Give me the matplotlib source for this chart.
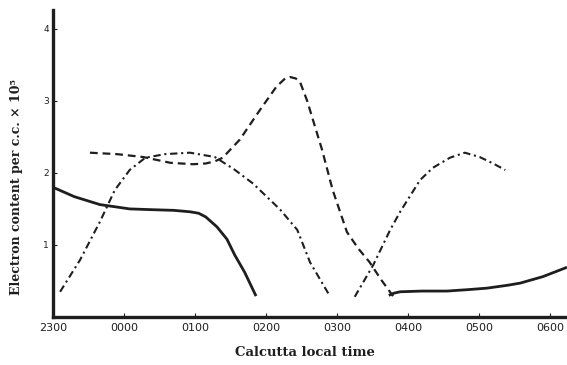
import matplotlib
matplotlib.use("Agg")
import matplotlib.pyplot as plt

# hours after 2300 local time
solid1_x = [0.00, 0.30, 0.66, 1.08, 1.37, 1.70, 1.93, 2.05, 2.15, 2.31, 2.45, 2.56, 2.70, 2.86]
solid1_y = [1.80, 1.67, 1.56, 1.50, 1.49, 1.48, 1.46, 1.44, 1.39, 1.25, 1.08, 0.86, 0.62, 0.29]

solid2_x = [4.73, 4.80, 4.89, 5.20, 5.55, 5.85, 6.11, 6.40, 6.58, 6.90, 7.24]
solid2_y = [0.30, 0.33, 0.35, 0.36, 0.36, 0.38, 0.40, 0.44, 0.47, 0.56, 0.69]

dash_x = [0.52, 0.90, 1.27, 1.65, 1.97, 2.15, 2.28, 2.39, 2.63, 2.92, 3.15, 3.27, 3.34, 3.42, 3.48,
          3.58, 3.66, 3.79, 3.94, 4.14, 4.30, 4.46, 4.62, 4.79]
dash_y = [2.28, 2.26, 2.22, 2.14, 2.12, 2.13, 2.16, 2.21, 2.46, 2.88, 3.20, 3.31, 3.33, 3.31, 3.26,
          3.00, 2.74, 2.32, 1.76, 1.18, 0.95, 0.76, 0.52, 0.29]

dd1_x = [0.10, 0.38, 0.66, 0.87, 1.08, 1.30, 1.58, 1.93, 2.28, 2.55, 2.82, 3.20, 3.44, 3.62, 3.90]
dd1_y = [0.35, 0.79, 1.32, 1.76, 2.04, 2.21, 2.26, 2.28, 2.22, 2.05, 1.85, 1.49, 1.21, 0.76, 0.29]

dd2_x = [4.25, 4.51, 4.75, 4.89, 5.17, 5.35, 5.59, 5.80, 6.01, 6.20, 6.37]
dd2_y = [0.28, 0.72, 1.21, 1.46, 1.90, 2.07, 2.21, 2.28, 2.22, 2.13, 2.04]

xtick_pos = [0, 1, 2, 3, 4, 5, 6, 7]
xtick_labels = ["2300", "0000", "0100", "0200", "0300", "0400", "0500", "0600"]
ytick_pos = [1, 2, 3, 4]
ytick_labels = ["1", "2", "3", "4"]

ink = "#1e1e1e"
serif = ["DejaVu Serif"]

fig = plt.figure(figsize=(5.67, 3.65), dpi=100)
ax = fig.add_axes([53 / 567, 48 / 365, 1 - 53 / 567, 307 / 365])

ax.plot(solid1_x, solid1_y, color=ink, lw=2.0, solid_capstyle="butt", solid_joinstyle="round")
ax.plot(solid2_x, solid2_y, color=ink, lw=2.0, solid_capstyle="butt", solid_joinstyle="round")
ax.plot(dash_x, dash_y, color=ink, lw=1.6, dashes=(3.5, 2.2))
ax.plot(dd1_x, dd1_y, color=ink, lw=1.5, dashes=(3.5, 1.8, 1.0, 1.8))
ax.plot(dd2_x, dd2_y, color=ink, lw=1.5, dashes=(3.5, 1.8, 1.0, 1.8))

ax.set_xlim(0, 7.24)
ax.set_ylim(0, 4.26)
for s in ("top", "right"):
    ax.spines[s].set_visible(False)
for s in ("left", "bottom"):
    ax.spines[s].set_linewidth(2.4)
    ax.spines[s].set_color(ink)

ax.set_xticks(xtick_pos)
ax.set_xticklabels(xtick_labels, fontsize=8, family=["DejaVu Sans"], color=ink)
ax.set_yticks(ytick_pos)
ax.set_yticklabels(ytick_labels, fontsize=6.5, family=["DejaVu Sans"], color=ink)
ax.tick_params(axis="both", direction="in", length=3, width=0.8, colors=ink)
ax.tick_params(axis="x", pad=4)
ax.tick_params(axis="y", pad=3)

fig.text(305 / 567, 1 - 353 / 365, "Calcutta local time", ha="center", va="center",
         fontsize=9.5, family=serif, weight="bold", color=ink)
fig.text(17 / 567, 1 - 187 / 365, "Electron content per c.c. \u00d7 10\u2075", ha="center",
         va="center", rotation=90, fontsize=9, family=serif, weight="bold", color=ink)

fig.savefig("out.png", dpi=100)
